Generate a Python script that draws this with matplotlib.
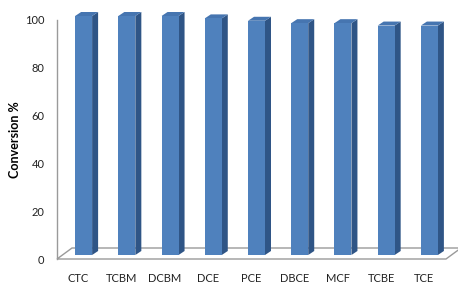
import matplotlib.pyplot as plt
import numpy as np
from matplotlib.patches import Polygon

plt.rcParams['font.family'] = ['Lato', 'DejaVu Sans']

# ---- data ----
compounds = ['CTC', 'TCBM', 'DCBM', 'DCE', 'PCE', 'DBCE', 'MCF', 'TCBE', 'TCE']
conversion = [100, 100, 100, 99, 98, 97, 97, 96, 96]
y_ticks = [0, 20, 40, 60, 80, 100]

# ---- layout (pixels at dpi 100) ----
W, H, DPI = 458, 284, 100
ax_left, ax_right, ax_bottom, ax_top = 57, 446, 259, 20

fig = plt.figure(figsize=(W / DPI, H / DPI), dpi=DPI)
ax = fig.add_axes([ax_left / W, 1 - ax_bottom / H,
                   (ax_right - ax_left) / W, (ax_bottom - ax_top) / H])

n = len(compounds)
x = np.arange(n)
ax.set_xlim(-0.5, n - 0.5)
ax.set_ylim(0, 100)

# pixel -> data unit converters
px_x = n / (ax_right - ax_left)
px_y = 100 / (ax_bottom - ax_top)

# pseudo 3d depth vectors (in pixels)
floor_d = (15 * px_x, 11 * px_y)
bar_off = (5 * px_x, 4 * px_y)
bar_d = (6 * px_x, 4 * px_y)
bw = 17 * px_x

front_col = '#4F81BD'
side_col = '#2F5586'
top_col = '#4675B0'

# floor
floor = Polygon([(-0.5, 0), (n - 0.5, 0), (n - 0.5 + floor_d[0], floor_d[1]),
                 (-0.5 + floor_d[0], floor_d[1])],
                closed=True, facecolor='white', edgecolor='#9A9A9A', lw=1.0,
                clip_on=False, zorder=1)
ax.add_patch(floor)

# bars
for xi, v in zip(x, conversion):
    x0 = xi - bw / 2 + bar_off[0]
    x1 = xi + bw / 2 + bar_off[0]
    y0 = bar_off[1]
    y1 = v + bar_off[1]
    side = Polygon([(x1, y0), (x1 + bar_d[0], y0 + bar_d[1]),
                    (x1 + bar_d[0], y1 + bar_d[1]), (x1, y1)],
                   closed=True, facecolor=side_col, edgecolor='none',
                   clip_on=False, zorder=2)
    top = Polygon([(x0, y1), (x1, y1), (x1 + bar_d[0], y1 + bar_d[1]),
                   (x0 + bar_d[0], y1 + bar_d[1])],
                  closed=True, facecolor=top_col, edgecolor='none',
                  clip_on=False, zorder=2)
    ax.add_patch(side)
    ax.add_patch(top)

ax.bar(x + bar_off[0], conversion, width=bw, bottom=bar_off[1],
       color=front_col, edgecolor='none', zorder=3, clip_on=False)

# axes styling
for s in ['top', 'right', 'bottom']:
    ax.spines[s].set_visible(False)
ax.spines['left'].set_color('#9A9A9A')
ax.spines['left'].set_linewidth(1.0)

ax.set_yticks(y_ticks)
ax.set_xticks(x)
ax.set_xticklabels(compounds)
ax.tick_params(axis='y', length=0, pad=9, labelsize=8, labelcolor='#222222')
ax.tick_params(axis='x', length=0, pad=10, labelsize=8, labelcolor='#222222')

ax.set_ylabel('Conversion %', fontsize=9, fontweight='bold', labelpad=3)

fig.savefig('out.png', dpi=DPI)
